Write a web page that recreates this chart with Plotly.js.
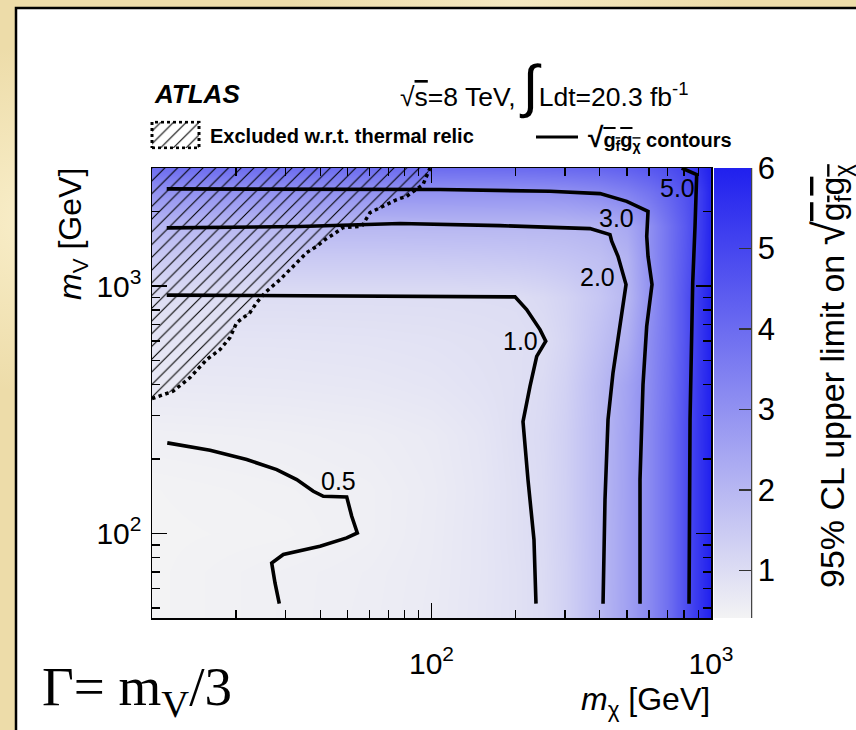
<!DOCTYPE html>
<html>
<head>
<meta charset="utf-8">
<script src="https://cdn.plot.ly/plotly-3.0.1.min.js"></script>
<style>
  html, body { margin: 0; padding: 0; }
  body {
    width: 856px; height: 730px; overflow: hidden;
    background:
      radial-gradient(circle at 4% 30%, rgba(250,240,205,0.9) 0%, rgba(250,240,205,0) 18%),
      radial-gradient(circle at 60% 0%, rgba(246,234,196,0.9) 0%, rgba(246,234,196,0) 25%),
      #eddca9;
  }
  #chart { width: 856px; height: 730px; }
</style>
</head>
<body>
<div id="chart"></div>
<script>
// ---- 95% CL upper limit on sqrt(gf*gchi): grid nodes (GeV) and values ----
const mChiNodes = [10, 30, 60, 100, 150, 200, 250, 300, 400, 500, 600, 700, 800, 900, 1000];
const mVNodes   = [45.6, 70, 100, 150, 250, 400, 600, 900, 1300, 1750, 2400, 3000];
const limitGrid = [
  [0.41, 0.51, 0.57, 0.65, 0.78, 0.90, 1.03, 1.30, 1.96, 2.58, 3.20, 3.90, 4.70, 5.40, 6.00],
  [0.41, 0.51, 0.56, 0.64, 0.77, 0.90, 1.04, 1.30, 1.95, 2.57, 3.20, 3.90, 4.70, 5.40, 6.00],
  [0.41, 0.44, 0.52, 0.63, 0.77, 0.92, 1.06, 1.32, 1.95, 2.57, 3.20, 3.90, 4.70, 5.40, 6.00],
  [0.42, 0.47, 0.52, 0.62, 0.76, 0.92, 1.06, 1.32, 1.96, 2.58, 3.20, 3.90, 4.70, 5.40, 6.00],
  [0.51, 0.54, 0.58, 0.65, 0.78, 0.95, 1.08, 1.33, 1.95, 2.57, 3.20, 3.90, 4.70, 5.40, 6.00],
  [0.68, 0.70, 0.73, 0.78, 0.86, 0.93, 1.05, 1.28, 1.92, 2.52, 3.15, 3.85, 4.65, 5.35, 6.00],
  [0.80, 0.81, 0.83, 0.86, 0.90, 0.94, 0.99, 1.20, 1.75, 2.20, 3.10, 3.80, 4.60, 5.30, 6.00],
  [0.98, 0.98, 0.98, 0.98, 0.99, 1.00, 1.10, 1.25, 1.60, 2.00, 2.95, 3.80, 4.60, 5.30, 6.00],
  [1.50, 1.50, 1.50, 1.51, 1.53, 1.56, 1.60, 1.66, 1.80, 2.10, 3.02, 3.80, 4.50, 5.15, 5.90],
  [1.99, 1.99, 1.99, 2.00, 2.00, 2.00, 2.00, 2.01, 2.10, 2.40, 3.05, 3.80, 4.45, 5.10, 5.90],
  [2.95, 2.95, 2.96, 2.96, 2.97, 2.98, 2.99, 3.03, 3.20, 3.45, 3.80, 4.20, 4.65, 5.10, 5.90],
  [3.95, 3.95, 3.96, 3.98, 4.00, 4.02, 4.05, 4.08, 4.15, 4.30, 4.50, 4.75, 5.05, 5.50, 6.00]
];
const zMin = 0.41, zMax = 6;
const colorbarTicks = [1, 2, 3, 4, 5, 6];

// ---- sqrt(gf*gchi) contour lines (m_chi, m_V in GeV) ----
const contourLevels = ['0.5', '1.0', '2.0', '3.0', '5.0'];
const c05MChi = [11.34, 16.13, 21.82, 27.94, 32.94, 37.77, 41.02, 49.73, 51.83, 54.27, 49.73, 39.92, 29.5, 26.81, 27.55, 28.54];
const c05MV   = [232.6, 217.1, 199.1, 181.4, 165.3, 148.2, 141.5, 140.7, 117.5, 100.6, 96.1, 88.9, 82.3, 76.1, 63.2, 52.1];
const c10MChi = [11.29, 33.85, 107.3, 199, 219, 244.5, 256.3, 250.6, 237.9, 225.1, 212.5, 221.4, 232.6, 236.5];
const c10MV   = [919.6, 915.6, 909.5, 904.4, 803.7, 667, 598.4, 571, 520, 393.6, 283.6, 165.3, 94.6, 52.1];
const c20MChi = [11.29, 33.85, 77.2, 175.9, 369.1, 435.1, 441.3, 464.8, 496.6, 472.5, 446.1, 428.1, 417.6, 410.9];
const c20MV   = [1719, 1740, 1789, 1755, 1707, 1615, 1517, 1319, 1014, 688, 447, 288.9, 137.2, 52.1];
const c30MChi = [11.29, 33.85, 107.3, 265.5, 400.8, 499.5, 595.2, 588.8, 595.2, 615.1, 588.8, 571.1, 557.2, 557.2];
const c30MV   = [2470, 2466, 2455, 2416, 2364, 2200, 2005, 1589, 1319, 1014, 688, 400, 165.3, 52.1];
const c50MChi = [785.6, 888.9, 876.7, 860.2, 841.4, 834.5];
const c50MV   = [3000, 2822, 1744, 1033, 289, 52.1];

// ---- thermal relic exclusion boundary ----
const relicMChi = [10, 11.89, 13.68, 15.69, 17.51, 19.01, 20.09, 22.42, 23.69, 25.37, 28.71, 30.66, 32.94, 35.77,
                   38.85, 41.59, 44.42, 48.25, 56.27, 60.26, 67.08, 75.08, 81.52, 88.51, 93.24, 98.77];
const relicMV   = [351, 375.8, 426.9, 504.7, 553.9, 619.3, 712, 781.5, 857.6, 941, 1062, 1148, 1244, 1366,
                   1448, 1541, 1615, 1723, 1744, 1981, 2101, 2236, 2306, 2455, 2571, 3000];

// ---- axes ----
const xRange = [10, 1000];
const yRange = [45.6, 3000];
const xMajor = [100, 1000];
const xMajorText = ['10<sup>2</sup>', '10<sup>3</sup>'];
const xMinor = [20, 30, 40, 50, 60, 70, 80, 90, 200, 300, 400, 500, 600, 700, 800, 900];
const yMajor = [100, 1000];
const yMajorText = ['10<sup>2</sup>', '10<sup>3</sup>'];
const yMinor = [50, 60, 70, 80, 90, 200, 300, 400, 500, 600, 700, 800, 900, 2000, 3000];

// ---- page geometry helpers (pixels -> paper fractions) ----
const W = 856, H = 730;
const fx = p => p / W;
const fy = p => 1 - p / H;
const SANS = 'Liberation Sans, Arial, Helvetica, sans-serif';
const SERIF = 'Liberation Serif, Times New Roman, serif';

const hatch = {shape: '/', fgcolor: '#000', bgcolor: 'rgba(0,0,0,0)', size: 9, solidity: 0.12};

const contourTraces = [
  [c05MChi, c05MV], [c10MChi, c10MV], [c20MChi, c20MV], [c30MChi, c30MV], [c50MChi, c50MV]
].map(([xs, ys], i) => ({
  type: 'scatter', mode: 'lines', x: xs, y: ys, name: contourLevels[i],
  line: {color: '#000', width: 3.6}, hoverinfo: 'skip', showlegend: false
}));

const data = [
  {
    type: 'heatmap', x: mChiNodes, y: mVNodes, z: limitGrid,
    zsmooth: 'best', zmin: zMin, zmax: zMax,
    colorscale: [[0, 'rgb(243,243,244)'], [1, 'rgb(32,32,238)']],
    hoverinfo: 'skip',
    colorbar: {
      x: fx(714), xanchor: 'left', y: fy(168), yanchor: 'top',
      len: 450, lenmode: 'pixels', thickness: 37, thicknessmode: 'pixels',
      xpad: 0, ypad: 0, outlinewidth: 0,
      tickmode: 'array', tickvals: colorbarTicks, ticktext: colorbarTicks.map(String),
      ticks: 'inside', ticklen: 12, tickwidth: 1.5, tickcolor: '#333',
      tickfont: {family: SANS, size: 31, color: '#000'}
    }
  },
  {
    // hatched region excluded with respect to the thermal relic
    type: 'scatter', mode: 'lines',
    x: relicMChi.concat([10]), y: relicMV.concat([3000]),
    fill: 'toself', fillcolor: 'rgba(0,0,0,0)', fillpattern: hatch,
    line: {width: 0, color: 'rgba(0,0,0,0)'}, hoverinfo: 'skip', showlegend: false
  },
  {
    type: 'scatter', mode: 'lines', x: relicMChi, y: relicMV,
    line: {color: '#000', width: 3.5, dash: 'dot'}, hoverinfo: 'skip', showlegend: false
  },
  ...contourTraces,
  {
    // legend swatch for the hatched region
    type: 'scatter', mode: 'lines', xaxis: 'x2', yaxis: 'y2',
    x: [0, 1, 1, 0, 0], y: [0, 0, 1, 1, 0],
    fill: 'toself', fillcolor: 'rgba(0,0,0,0)', fillpattern: hatch,
    line: {color: '#000', width: 3, dash: 'dot'}, hoverinfo: 'skip', showlegend: false
  }
];

const axisCommon = {
  type: 'log', showline: true, linecolor: '#000', linewidth: 1.5, mirror: 'allticks',
  ticks: 'inside', ticklen: 15, tickwidth: 1.3, tickcolor: '#000',
  showgrid: false, zeroline: false, tickmode: 'array',
  tickfont: {family: SANS, size: 30, color: '#000'}
};

const ovl = s => '<span style="text-decoration:overline">' + s + '</span>';

const annotations = [
  {text: '<b><i>ATLAS</i></b>', x: fx(152), y: fy(94), xanchor: 'left',
   font: {family: SANS, size: 26, color: '#000'}},
  {text: '√' + ovl('s') + '=8 TeV, <span style="font-size:58px">∫</span>Ldt=20.3 fb<sup>-1</sup>',
   x: fx(398), y: fy(86), xanchor: 'left',
   font: {family: SANS, size: 26.5, color: '#000'}},
  {text: '<b>Excluded w.r.t. thermal relic</b>', x: fx(208), y: fy(136), xanchor: 'left',
   font: {family: SANS, size: 20, color: '#000'}},
  {text: '<b><span style="font-size:28px">√</span>' + ovl('g<sub>f</sub>g<sub>χ</sub>') + ' contours</b>',
   x: fx(586), y: fy(138), xanchor: 'left',
   font: {family: SANS, size: 20, color: '#000'}},
  {text: '<i>m</i><sub>V</sub> [GeV]', textangle: -90, x: fx(72), y: fy(166), xanchor: 'center', yanchor: 'top',
   font: {family: SANS, size: 32, color: '#000'}},
  {text: '<i>m</i><sub>χ</sub> [GeV]', x: fx(712), y: fy(701), xanchor: 'right',
   font: {family: SANS, size: 32, color: '#000'}},
  {text: 'Γ= m<sub>V</sub>/3', x: fx(40), y: fy(690), xanchor: 'left',
   font: {family: SERIF, size: 55, color: '#000'}},
  {text: '95% CL upper limit on <span style="font-size:44px">√</span>' + ovl('g<sub>f</sub>g<sub>χ</sub>'),
   textangle: -90, x: fx(830), y: fy(590), xanchor: 'center', yanchor: 'bottom',
   font: {family: SANS, size: 34, color: '#000'}},
  // contour level labels
  {text: contourLevels[0], x: fx(338), y: fy(481)},
  {text: contourLevels[1], x: fx(520), y: fy(341)},
  {text: contourLevels[2], x: fx(597), y: fy(277)},
  {text: contourLevels[3], x: fx(616), y: fy(218)},
  {text: contourLevels[4], x: fx(677), y: fy(188)}
].map(a => Object.assign({xref: 'paper', yref: 'paper', showarrow: false,
                          xanchor: 'center', yanchor: 'middle',
                          font: {family: SANS, size: 25, color: '#000'}}, a));

const layout = {
  width: W, height: H,
  margin: {l: 0, r: 0, t: 0, b: 0, pad: 0, autoexpand: false},
  paper_bgcolor: 'rgba(0,0,0,0)', plot_bgcolor: 'rgba(0,0,0,0)',
  showlegend: false,
  xaxis: Object.assign({}, axisCommon, {
    domain: [fx(152), fx(711)], anchor: 'y',
    range: xRange.map(Math.log10),
    tickvals: xMajor, ticktext: xMajorText, ticklabelstandoff: 18,
    minor: {tickmode: 'array', tickvals: xMinor, ticks: 'inside', ticklen: 8, tickwidth: 1.3, tickcolor: '#000', showgrid: false}
  }),
  yaxis: Object.assign({}, axisCommon, {
    domain: [fy(618), fy(168)], anchor: 'x',
    range: yRange.map(Math.log10),
    tickvals: yMajor, ticktext: yMajorText, ticklabelstandoff: 3,
    minor: {tickmode: 'array', tickvals: yMinor, ticks: 'inside', ticklen: 8, tickwidth: 1.3, tickcolor: '#000', showgrid: false}
  }),
  xaxis2: {domain: [fx(149.65), fx(201.35)], anchor: 'y2', range: [-0.05, 1.05], visible: false, fixedrange: true},
  yaxis2: {domain: [fy(149.3), fy(120.7)], anchor: 'x2', range: [-0.05, 1.05], visible: false, fixedrange: true},
  shapes: [
    {type: 'rect', xref: 'paper', yref: 'paper', x0: fx(16), x1: 1.2, y0: -0.2, y1: fy(8),
     fillcolor: '#ffffff', line: {color: '#000', width: 2.5}, layer: 'below'},
    {type: 'line', xref: 'paper', yref: 'paper', x0: fx(751.5), x1: fx(751.5), y0: fy(618), y1: fy(168),
     line: {color: '#444', width: 1.5}},
    {type: 'line', xref: 'paper', yref: 'paper', x0: fx(536), x1: fx(578), y0: fy(137), y1: fy(137),
     line: {color: '#000', width: 3}}
  ],
  annotations: annotations
};

Plotly.newPlot('chart', data, layout, {displayModeBar: false, staticPlot: true});
</script>
</body>
</html>
